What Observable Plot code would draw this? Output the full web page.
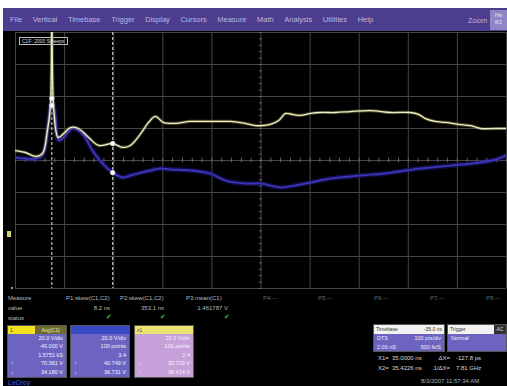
<!DOCTYPE html>
<html><head><meta charset="utf-8">
<script src="https://cdn.jsdelivr.net/npm/d3@7"></script>
<script src="https://cdn.jsdelivr.net/npm/@observablehq/plot@0.6"></script>
<style>
body{margin:0;background:#fff;font-family:"Liberation Sans",Arial,sans-serif}
#wrap{position:relative;width:507px;height:386px;overflow:hidden;background:#fff}
.abs{position:absolute;white-space:nowrap}
#panel{left:3px;top:31px;width:504px;height:355px;background:#000}
#menu{left:3px;top:8px;width:504px;height:23px;background:#4d3d8f;display:flex;align-items:center;font-size:7.5px;color:#bbb7dd;box-sizing:border-box;padding-left:7px}
#menu span{margin-right:10.6px}
#zoomlbl{left:468px;top:16px;font-size:7.5px;color:#bbb7dd}
#zoombtn{left:490px;top:10px;width:17px;height:20px;background:#8f86c8;font-size:5px;color:#e8e6f6;text-align:center;line-height:7px;padding-top:2px;box-sizing:border-box}
#sweeps{left:19px;top:37px;border:1px solid #bbb;font-size:5px;line-height:6px;color:#ddd;padding:0 2px}
.meas{font-size:6px;color:#b8b8b8}
.ch{position:absolute;top:325px;width:60px;height:53px;background:#6c64c0;border:1px solid #555;box-sizing:border-box;overflow:hidden}
.ch .hd{height:8px;position:relative;font-size:5px;line-height:8px}
.ch .row{font-size:5.5px;line-height:8.4px;color:#f4f2ff;text-align:right;padding-right:3px;position:relative}
.ch .row i{position:absolute;left:3px;font-style:normal}
.tb{position:absolute;top:324px;height:28px;background:#6c64c0;border:1px solid #555;box-sizing:border-box;overflow:hidden}
.tb .hd{height:9px;background:#f2f2f2;color:#333;font-size:5px;line-height:9px;position:relative;padding:0 2px}
.tb .row{font-size:5.5px;line-height:8.5px;color:#f0eeff;padding:0 3px;display:flex;justify-content:space-between}
.cur{font-size:6px;color:#d8d8d8}
</style></head><body><div id="wrap"></div>
<script>
// ---------- data ----------
const menuItems = ["File","Vertical","Timebase","Trigger","Display","Cursors","Measure","Math","Analysis","Utilities","Help"];
// time in divisions, value in divisions (0 = centre line)
const ch1T = [0,0.20,0.41,0.55,0.65,0.71,0.74,0.78,0.87,0.98,1.12,1.28,1.49,1.69,1.98,2.18,2.34,2.55,2.71,2.85,3.01,3.26,3.56,3.97,4.38,4.68,4.89,5.19,5.36,5.50,5.64,5.80,6.01,6.21,6.52,6.82,7.23,7.64,8.04,8.21,8.35,8.55,8.76,9.02,9.27,9.47,9.78,10];
const ch1V = [0.31,0.25,0.13,0.22,0.94,1.66,4.4,1.56,0.72,0.84,1.03,1.00,0.72,0.47,0.53,0.41,0.47,0.84,1.19,1.38,1.19,1.16,1.22,1.22,1.22,1.16,1.09,1.13,1.25,1.47,1.44,1.41,1.47,1.50,1.50,1.53,1.56,1.50,1.50,1.44,1.31,1.22,1.19,1.13,1.09,1.00,1.00,1.00];
const ch2T = [0,0.20,0.41,0.55,0.65,0.71,0.75,0.81,0.88,0.98,1.16,1.36,1.57,1.77,1.98,2.18,2.34,2.55,2.75,2.95,3.16,3.56,3.97,4.28,4.68,4.99,5.40,5.80,6.42,7.03,7.64,8.25,8.86,9.47,9.78,10];
const ch2V = [0.09,0.06,0.06,0.16,0.94,1.69,1.88,1.41,0.63,0.72,1.00,0.84,0.31,-0.09,-0.38,-0.53,-0.47,-0.38,-0.31,-0.25,-0.28,-0.31,-0.41,-0.63,-0.72,-0.72,-0.84,-0.75,-0.56,-0.47,-0.38,-0.25,-0.16,-0.06,0.03,0.16];
const cursorT = [0.74, 1.98];
const markT = [0.74, 0.74, 1.98, 1.98];
const markV = [1.94, 1.72, 0.53, -0.38];
const gridX = [0,1,2,3,4,5,6,7,8,9,10];
const gridY = [-4,-3,-2,-1,0,1,2,3,4];
const measureNames = ["P1:skew(C1,C2)","P2:skew(C1,C2)","P3:mean(C1)","P4:---","P5:---","P6:---","P7:---","P8:---"];
const measureValues = ["8.2 ns","353.1 ns","1.461787 V"];
const ch1Rows = ["20.0 V/div","-40.000 V","1.5751 kS","70.361 V","34.180 V"];
const ch2Rows = ["20.0 V/div","100 points","3.4","40.749 V","36.731 V"];
const z1Rows = ["20.0 V/div","100 points","2.4","33.729 V","36.414 V"];
const timebase = ["Timebase","-35.0 ns","DTS","100 pts/div","2.00 nS","500 fs/S"];
const trigger = ["Trigger","Normal"];
const cursorRows = [["X1=","35.0000 ns","ΔX=","-127.8 ps"],["X2=","35.4226 ns","1/ΔX=","7.81 GHz"]];
const dateText = "8/3/2007 11:57:34 AM";

const ch1 = ch1T.map((t,i)=>({t, v: ch1V[i]}));
const ch2 = ch2T.map((t,i)=>({t, v: ch2V[i]}));
const marks = markT.map((t,i)=>({t, v: markV[i]}));

// ---------- layout ----------
const wrap = document.getElementById("wrap");
function el(cls, id, html, style){const d=document.createElement("div");d.className=cls;if(id)d.id=id;if(html!=null)d.innerHTML=html;if(style)d.style.cssText=style;wrap.appendChild(d);return d;}
el("abs","panel");
const menu = el("abs","menu");
menuItems.forEach(m=>{const s=document.createElement("span");s.textContent=m;menu.appendChild(s);});
el("abs","zoomlbl","Zoom");
el("abs","zoombtn","Hw<br>8/1");

const minor = d3.range(0,10.01,0.2);
const minorY = d3.range(-4,4.01,0.2);
const chart = Plot.plot({
  width:507, height:386, marginTop:32, marginBottom:98, marginLeft:15, marginRight:1,
  x:{domain:[0,10], axis:null}, y:{domain:[-4,4], axis:null},
  style:{background:"transparent"},
  marks:[
    Plot.ruleX(gridX,{stroke:"#464646",strokeWidth:1}),
    Plot.ruleY(gridY,{stroke:"#464646",strokeWidth:1}),
    Plot.ruleX(minor,{y1:-0.07,y2:0.07,stroke:"#666"}),
    Plot.ruleY(minorY,{x1:4.97,x2:5.03,stroke:"#666"}),
    Plot.ruleX(cursorT,{stroke:"#e0e0e0",strokeDasharray:"3,2",strokeWidth:1}),
    Plot.line(ch2,{x:"t",y:"v",stroke:"#241c90",strokeWidth:5,strokeOpacity:0.45,curve:"catmull-rom",clip:true}),
    Plot.line(ch2,{x:"t",y:"v",stroke:"#3c34b8",strokeWidth:2,curve:"catmull-rom",clip:true}),
    Plot.line(ch1,{x:"t",y:"v",stroke:"#9a9650",strokeWidth:3.2,strokeOpacity:0.45,curve:"catmull-rom",clip:true}),
    Plot.line(ch1,{x:"t",y:"v",stroke:"#efedc8",strokeWidth:1.3,curve:"catmull-rom",clip:true}),
    Plot.dot(marks,{x:"t",y:"v",r:2.2,fill:"#fff",stroke:"#ddd",strokeWidth:1})
  ]
});
chart.style.position="absolute"; chart.style.left="0"; chart.style.top="0";
wrap.appendChild(chart);

el("abs","sweeps","C1F: 2000 Sweeps");
el("abs",null,"",`left:7px;top:231px;width:4px;height:6px;background:#d8d070`);
el("abs",null,"",`left:11px;top:287px;width:2px;height:2px;background:#ccc;border-radius:1px`);

// measurement table
el("abs meas",null,"Measure","left:8px;top:295px");
el("abs meas",null,"value","left:8px;top:305px");
el("abs meas",null,"status","left:8px;top:315px");
const mLeft=[66,120,186,263,318,374,430,486];
measureNames.forEach((n,i)=>el("abs meas",null,n,`left:${mLeft[i]}px;top:295px;${i>2?"color:#6a6a6a":""}`));
const vRight=[110,164,228];
measureValues.forEach((v,i)=>{
  el("abs meas",null,v,`right:${507-vRight[i]}px;top:305px`);
  el("abs",null,"✔",`right:${507-vRight[i]-2}px;top:313px;font-size:7px;color:#3ec43e`);
});

// channel boxes
function chBox(left, hdHTML, rows, body){
  const d=document.createElement("div");d.className="ch";d.style.left=left+"px";if(body)d.style.background=body;
  d.innerHTML=`<div class="hd">${hdHTML}</div>`+rows.map((r,i)=>`<div class="row">${i>=3?`<i>${i==3?"↑":"↓"}</i>`:""}${r}</div>`).join("");
  wrap.appendChild(d);
}
chBox(7,`<div style="position:absolute;left:0;top:0;width:27px;height:8px;background:#f2e21c;color:#333;padding-left:2px">1</div><div style="position:absolute;left:27px;top:0;right:0;height:8px;background:#6e6a30;color:#e8e6b0;text-align:center">Avg(C1)</div>`,ch1Rows);
chBox(70,`<div style="position:absolute;inset:0;background:#3848c4"></div>`,ch2Rows);
chBox(134,`<div style="position:absolute;inset:0;background:#ece472;color:#444;padding-left:2px">z1</div>`,z1Rows,"#c6a0d8");

// timebase & trigger
const tb=document.createElement("div");tb.className="tb";tb.style.left="373px";tb.style.width="72px";
tb.innerHTML=`<div class="hd">${timebase[0]}<span style="position:absolute;right:2px">${timebase[1]}</span></div><div class="row"><span>${timebase[2]}</span><span>${timebase[3]}</span></div><div class="row"><span>${timebase[4]}</span><span>${timebase[5]}</span></div>`;
wrap.appendChild(tb);
const tr=document.createElement("div");tr.className="tb";tr.style.left="447px";tr.style.width="60px";
tr.innerHTML=`<div class="hd">${trigger[0]}<span style="position:absolute;right:0;top:0;width:12px;height:9px;background:#333;color:#ddd;text-align:center">AC</span></div><div class="row"><span>${trigger[1]}</span></div>`;
wrap.appendChild(tr);

cursorRows.forEach((r,i)=>{
  const top=355+i*10;
  el("abs cur",null,r[0],`left:378px;top:${top}px`);
  el("abs cur",null,r[1],`left:392px;top:${top}px`);
  el("abs cur",null,r[2],`right:${507-450}px;top:${top}px`);
  el("abs cur",null,r[3],`left:456px;top:${top}px`);
});
el("abs cur",null,dateText,"left:421px;top:378px;color:#b0b0b0");
el("abs",null,"LeCroy","left:8px;top:379px;font-size:6.5px;line-height:7px;font-weight:bold;font-style:italic;color:#2a48c8");
</script></body></html>
